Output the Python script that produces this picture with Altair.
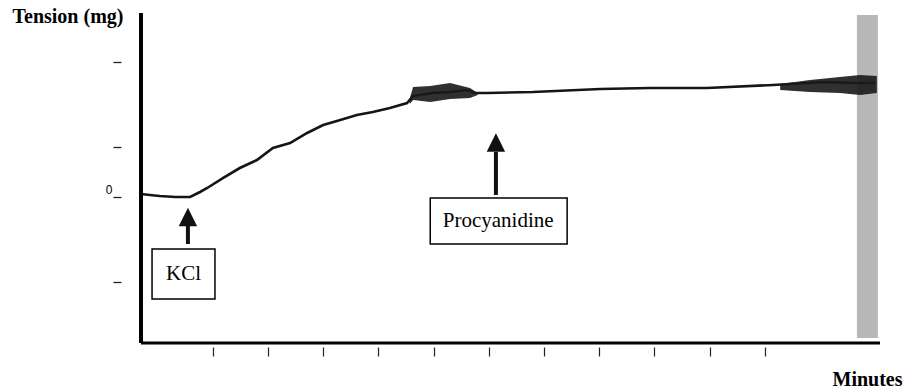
import altair as alt
import pandas as pd

# ---- data (x in minutes, y in tension units; 0 = baseline) ----
trace_min = [0.00, 0.16, 0.34, 0.62, 0.89, 1.07, 1.20, 1.49, 1.79, 2.10, 2.39, 2.70,
             3.01, 3.30, 3.61, 3.91, 4.20, 4.51, 4.82, 4.93, 5.29, 5.60, 5.91, 6.05,
             6.27, 7.10, 8.32, 9.22, 10.25, 11.45, 12.36, 12.97, 13.30]
trace_val = [0.035, 0.024, 0.012, 0.0, 0.0, 0.059, 0.106, 0.224, 0.341, 0.435, 0.576, 0.635,
             0.753, 0.847, 0.906, 0.965, 1.0, 1.047, 1.106, 1.188, 1.224, 1.235, 1.259, 1.224,
             1.224, 1.235, 1.271, 1.282, 1.282, 1.318, 1.353, 1.341, 1.341]

# thick noisy segments of the trace (upper / lower envelope)
blob1_min = [4.87, 4.93, 5.24, 5.60, 5.96, 6.10]
blob1_hi = [1.165, 1.294, 1.306, 1.341, 1.282, 1.224]
blob1_lo = [1.094, 1.141, 1.118, 1.153, 1.165, 1.200]
blob2_min = [11.58, 12.12, 12.66, 13.03, 13.33]
blob2_hi = [1.329, 1.376, 1.412, 1.435, 1.424]
blob2_lo = [1.259, 1.235, 1.224, 1.200, 1.224]

# y-axis tick positions (only 0 labelled), x-axis minute ticks
y_ticks = [-1.0, 0.0, 0.588, 1.588]
x_ticks = [1.3, 2.3, 3.3, 4.3, 5.3, 6.3, 7.3, 8.3, 9.3, 10.3, 11.3]

X_MAX = 13.388
Y_MIN, Y_MAX = -1.7176, 2.1647

# annotations
labels = ["KCl", "Procyanidine"]
arrow_x = [0.85, 6.43]
head_y = [-0.235, 0.641]
shaft_top = [-0.341, 0.529]
shaft_bot = [-0.553, 0.024]
box_x1 = [0.20, 5.24]
box_x2 = [1.34, 7.72]
box_y1 = [-0.612, -0.012]
box_y2 = [-1.200, -0.553]
text_x = [0.77, 6.47]
text_y = [-0.906, -0.282]

FONT = "Liberation Serif"
xs = alt.Scale(domain=[0, X_MAX], nice=False, zero=False)
ys = alt.Scale(domain=[Y_MIN, Y_MAX], nice=False, zero=False)

x_axis = alt.Axis(
    values=x_ticks, labels=False, domain=False, grid=False, ticks=True,
    tickSize=9, tickWidth=1.2, tickColor="#222", offset=4,
    title="Minutes", titleFont=FONT, titleFontSize=20, titleFontWeight="bold",
    titleColor="black", titleAlign="left", titleAnchor="start", titleX=691, titleY=38,
    titleBaseline="alphabetic")
y_axis = alt.Axis(
    values=y_ticks, labelExpr="datum.value == 0 ? '0' : ''", domain=False, grid=False,
    tickSize=8, tickWidth=1.3, tickColor="#222", offset=20,
    labelFont="Liberation Sans", labelFontSize=12, labelColor="black", labelPadding=1,
    labelBaseline="alphabetic", labelOffset=-4,
    title="Tension (mg)", titleFont=FONT, titleFontSize=20, titleFontWeight="bold",
    titleColor="black", titleAngle=0, titleAlign="left", titleAnchor="start",
    titleX=-109, titleY=9, titleBaseline="alphabetic")


def X(f):
    return alt.X(f, scale=xs, axis=x_axis)


def Y(f):
    return alt.Y(f, scale=ys, axis=y_axis)


trace_df = pd.DataFrame({"m": trace_min, "v": trace_val})
blob_df = pd.concat([
    pd.DataFrame({"m": blob1_min, "hi": blob1_hi, "lo": blob1_lo, "g": "a"}),
    pd.DataFrame({"m": blob2_min, "hi": blob2_hi, "lo": blob2_lo, "g": "b"}),
])
ann_df = pd.DataFrame({
    "label": labels, "ax": arrow_x, "hy": head_y, "st": shaft_top, "sb": shaft_bot,
    "bx1": box_x1, "bx2": box_x2, "by1": box_y1, "by2": box_y2, "tx": text_x, "ty": text_y,
})
frame_df = pd.DataFrame({"x0": [0.0], "x1": [X_MAX], "y0": [Y_MIN], "y1": [Y_MAX],
                         "nx1": [12.97], "nx2": [13.35], "ny1": [-1.66], "ny2": [2.14]})

trace = alt.Chart(trace_df).mark_line(color="#151515", strokeWidth=2.6).encode(
    x=X("m:Q"), y=Y("v:Q"))

band = alt.Chart(frame_df).mark_rect(color="#555", opacity=0.42).encode(
    x=X("nx1:Q"), x2="nx2:Q", y=Y("ny1:Q"), y2="ny2:Q")

blobs = alt.Chart(blob_df).mark_area(color="#1a1a1a", opacity=0.9).encode(
    x=X("m:Q"), y=Y("hi:Q"), y2="lo:Q", detail="g:N")

yline = alt.Chart(frame_df).mark_rule(color="black", strokeWidth=4).encode(
    x=X("x0:Q"), y=Y("y0:Q"), y2="y1:Q")
xline = alt.Chart(frame_df).mark_rule(color="black", strokeWidth=3).encode(
    x=X("x0:Q"), x2="x1:Q", y=Y("y0:Q"))

boxes = alt.Chart(ann_df).mark_rect(fill="white", stroke="black", strokeWidth=1.5).encode(
    x=X("bx1:Q"), x2="bx2:Q", y=Y("by1:Q"), y2="by2:Q")
shafts = alt.Chart(ann_df).mark_rule(color="#111", strokeWidth=4).encode(
    x=X("ax:Q"), y=Y("st:Q"), y2="sb:Q")
heads = alt.Chart(ann_df).mark_point(shape="M0,-1L1,1L-1,1Z", filled=True, size=340,
                                     color="#111", opacity=1).encode(
    x=X("ax:Q"), y=Y("hy:Q"))
texts = alt.Chart(ann_df).mark_text(font=FONT, fontSize=21, color="black",
                                    align="center", baseline="middle").encode(
    x=X("tx:Q"), y=Y("ty:Q"), text="label:N")

chart = alt.layer(trace, band, blobs, yline, xline, boxes, shafts, heads, texts).properties(
    width=739, height=330,
    padding={"left": 141, "top": 13, "right": 24, "bottom": 49},
    autosize=alt.AutoSizeParams(type="none"),
    background="white",
).configure_view(stroke=None)

chart.save("out.html", embed_options={"renderer": "svg", "actions": False})
